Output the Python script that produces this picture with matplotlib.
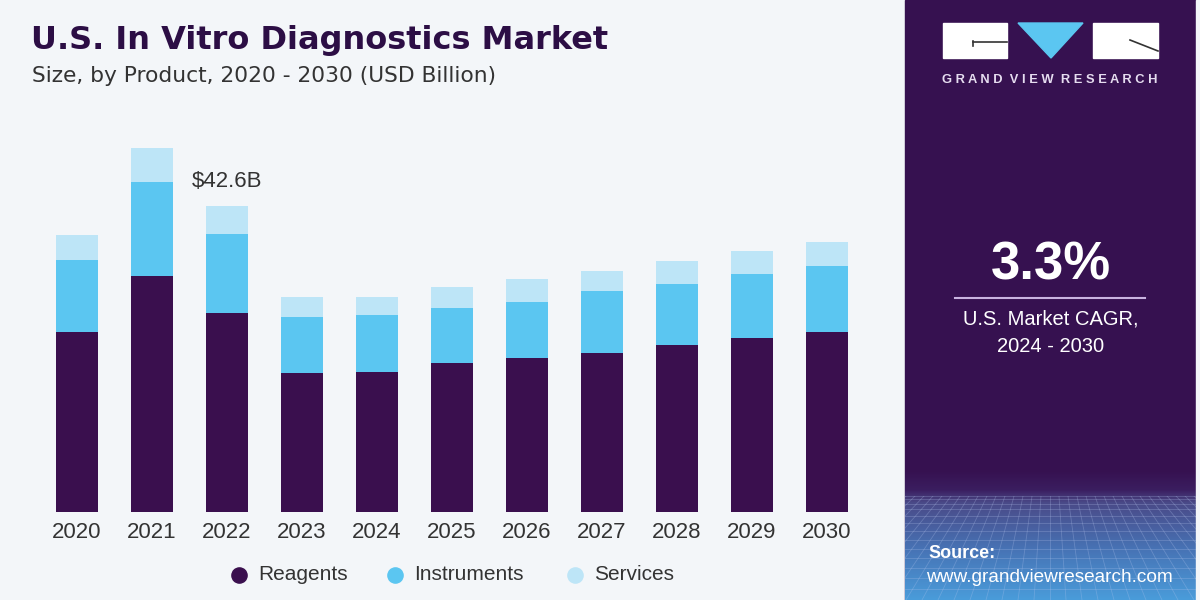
import numpy as np
import matplotlib
matplotlib.use("Agg")
import matplotlib.pyplot as plt
from matplotlib.patches import Rectangle, Polygon
from matplotlib.colors import LinearSegmentedColormap

# ── Data (USD Billion) ───────────────────────────────────────────────────────
years       = ["2020", "2021", "2022", "2023", "2024", "2025",
               "2026", "2027", "2028", "2029", "2030"]
reagents    = [25.1, 32.9, 27.7, 19.4, 19.5, 20.7, 21.4, 22.1, 23.2, 24.2, 25.1]
instruments = [10.0, 13.1, 11.0, 7.7, 7.9, 7.7, 7.9, 8.6, 8.6, 8.9, 9.2]
services    = [3.5, 4.7, 3.9, 2.9, 2.6, 2.9, 3.2, 2.9, 3.2, 3.2, 3.3]
series_names = ["Reagents", "Instruments", "Services"]
callout_year = "2022"
callout_text = "$42.6B"

# ── Colours ──────────────────────────────────────────────────────────────────
BG      = "#F3F6F9"
PANEL   = "#361150"
C_REAG  = "#3A0F4E"
C_INST  = "#5BC6F1"
C_SERV  = "#BDE5F7"
TXT     = "#333333"
FONT    = "Liberation Sans"

W, H = 1200, 600
fig = plt.figure(figsize=(12, 6), dpi=100)
fig.patch.set_facecolor(BG)

# overlay in pixel coords for panel / decorations
deco = fig.add_axes([0, 0, 1, 1], zorder=0)
deco.set_xlim(0, W)
deco.set_ylim(H, 0)
deco.axis("off")
deco.patch.set_alpha(0)

# right panel
deco.add_patch(Rectangle((905, 0), 291, 600, color=PANEL, zorder=1))
grad_cmap = LinearSegmentedColormap.from_list(
    "gvr", [(0.0, PANEL), (0.15, "#3B1E60"), (0.25, "#4A4A88"),
            (0.6, "#4772B4"), (1.0, "#4A9CDA")])
grad = np.linspace(0, 1, 200).reshape(-1, 1)
deco.imshow(grad, cmap=grad_cmap, extent=[905, 1196, 600, 470],
            aspect="auto", zorder=2)

# faint perspective grid at the bottom of the panel (clipped to panel)
clip = Rectangle((905, 496), 291, 104, transform=deco.transData)
for k in range(14):
    y = 496 + 104 * (k / 13) ** 1.4
    ln, = deco.plot([905, 1196], [y, y], color="#B8C8F0", lw=0.6, alpha=0.28, zorder=3)
    ln.set_clip_path(clip)
for k in range(-20, 21):
    x_top = 1050 + k * 9
    x_bot = 1050 + k * 16
    ln, = deco.plot([x_top, x_bot], [496, 600], color="#B8C8F0", lw=0.6, alpha=0.28, zorder=3)
    ln.set_clip_path(clip)
deco.add_patch(Rectangle((1196, 0), 4, 600, color=BG, zorder=4))

# logo
deco.add_patch(Rectangle((943, 23), 64, 35, color="white", zorder=5))
deco.add_patch(Rectangle((1093, 23), 65, 35, color="white", zorder=5))
deco.add_patch(Polygon([(1018, 23), (1083, 23), (1051, 58)], color="#5BC6F1", zorder=5))
deco.plot([973, 1007], [42, 42], color="#333333", lw=1.2, zorder=6)
deco.plot([973, 973], [41, 46], color="#333333", lw=1.2, zorder=6)
deco.plot([1130, 1158], [40, 51], color="#333333", lw=1.2, zorder=6)
deco.text(1050, 80, "G R A N D  V I E W  R E S E A R C H",
          color="#E6DDF0", fontsize=9.3, fontweight="bold", family=FONT,
          ha="center", va="center", zorder=6)

# CAGR block
deco.text(1051, 265, "3.3%", color="white", fontsize=38, fontweight="bold",
          family=FONT, ha="center", va="center", zorder=6)
deco.plot([955, 1145], [298, 298], color="#C9B3E0", lw=1.5, zorder=6)
deco.text(1051, 319, "U.S. Market CAGR,", color="white", fontsize=14.5,
          family=FONT, ha="center", va="center", zorder=6)
deco.text(1051, 346, "2024 - 2030", color="white", fontsize=14.5,
          family=FONT, ha="center", va="center", zorder=6)

# source
deco.text(928, 554, "Source:", color="white", fontsize=13, fontweight="bold",
          family=FONT, ha="left", va="center", zorder=6)
deco.text(926, 577, "www.grandviewresearch.com", color="white", fontsize=13.7,
          family=FONT, ha="left", va="center", zorder=6)

# titles
deco.text(31, 40, "U.S. In Vitro Diagnostics Market", color="#2C0E45",
          fontsize=23, fontweight="heavy", family="DejaVu Sans",
          ha="left", va="center", zorder=6)
deco.text(32, 76, "Size, by Product, 2020 - 2030 (USD Billion)", color=TXT,
          fontsize=15.7, family="DejaVu Sans", ha="left", va="center", zorder=6)

# ── Bar chart ────────────────────────────────────────────────────────────────
ax_left, ax_right, ax_bottom_px, ax_top_px = 39.5, 864.5, 512, 130
ax = fig.add_axes([ax_left / W, 1 - ax_bottom_px / H,
                   (ax_right - ax_left) / W, (ax_bottom_px - ax_top_px) / H], zorder=2)
ax.patch.set_alpha(0)
x = np.arange(len(years))
reag = np.array(reagents)
inst = np.array(instruments)
serv = np.array(services)
bw = 0.567
ax.bar(x, reag, width=bw, color=C_REAG)
ax.bar(x, inst, width=bw, bottom=reag, color=C_INST)
ax.bar(x, serv, width=bw, bottom=reag + inst, color=C_SERV)
ax.set_xlim(-0.5, len(years) - 0.5)
ax.set_ylim(0, (ax_bottom_px - ax_top_px) * 42.6 / 306)
ax.set_xticks(x)
ax.set_xticklabels(years, fontsize=16, color=TXT, family=FONT)
ax.tick_params(axis="x", length=0, pad=7)
ax.set_yticks([])
for s in ax.spines.values():
    s.set_visible(False)

i = years.index(callout_year)
tot = reag[i] + inst[i] + serv[i]
ax.annotate(callout_text, (x[i], tot), xytext=(0, 17.5), textcoords="offset points",
            ha="center", va="center", fontsize=16, color=TXT, family=FONT)

# legend
leg_x = [239, 395, 575]
leg_c = [C_REAG, C_INST, C_SERV]
for lx, c, name in zip(leg_x, leg_c, series_names):
    deco.scatter([lx], [575], s=120, color=c, zorder=6)
    deco.text(lx + 19, 575, name, fontsize=15, color=TXT, family=FONT,
              ha="left", va="center", zorder=6)

fig.savefig("out.png", dpi=100, facecolor=BG)
